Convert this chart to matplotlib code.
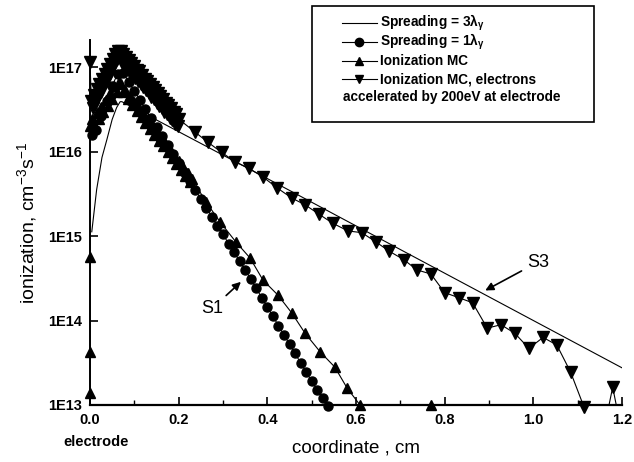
import numpy as np
import matplotlib.pyplot as plt
from matplotlib.patches import Rectangle
from matplotlib.lines import Line2D

plt.rcParams['font.family'] = ['Liberation Sans', 'DejaVu Sans']
plt.rcParams['mathtext.default'] = 'regular'

# Spreading = 3 lambda (thin line)
s3_x = [0.004, 0.015, 0.027, 0.038, 0.050, 0.060, 0.068, 0.072, 0.40, 0.80, 1.20]
s3_log = [15.05, 15.55, 15.93, 16.14, 16.38, 16.52, 16.59, 16.59, 15.68, 14.56, 13.44]

# Spreading = 1 lambda (circles)
s1_x = [0.005, 0.0125, 0.025, 0.0375, 0.05, 0.0625, 0.075, 0.0875, 0.100, 0.1125,
        0.125, 0.1375, 0.150, 0.1625, 0.175, 0.1875, 0.200, 0.2125, 0.225, 0.2375,
        0.250, 0.2625, 0.275, 0.2875, 0.300, 0.3125, 0.325, 0.3375, 0.350, 0.3625,
        0.375, 0.3875, 0.400, 0.4125, 0.425, 0.4375, 0.450, 0.4625, 0.475, 0.4875,
        0.500, 0.5125, 0.525, 0.5375]
s1_log = [16.20, 16.25, 16.42, 16.60, 16.78, 16.92, 16.93, 16.82, 16.72, 16.61,
          16.50, 16.40, 16.29, 16.18, 16.08, 15.97, 15.86, 15.76, 15.65, 15.54,
          15.44, 15.33, 15.23, 15.12, 15.02, 14.91, 14.81, 14.70, 14.60, 14.49,
          14.38, 14.27, 14.16, 14.05, 13.94, 13.83, 13.72, 13.61, 13.50, 13.39,
          13.28, 13.18, 13.08, 12.99]

# Ionization MC (up triangles)
mc_x = [0.0, 0.0, 0.0, 0.0,
        0.005, 0.010, 0.015, 0.020, 0.025, 0.030, 0.035, 0.040, 0.045, 0.050,
        0.055, 0.060, 0.065,
        0.070, 0.075, 0.080, 0.085, 0.090, 0.095, 0.100, 0.105, 0.110, 0.115,
        0.120, 0.125, 0.130, 0.135, 0.140, 0.145, 0.150, 0.155, 0.160, 0.165,
        0.170, 0.175, 0.180, 0.185, 0.190, 0.195, 0.200, 0.205, 0.210, 0.215,
        0.220, 0.225, 0.230,
        0.262, 0.293, 0.329, 0.361, 0.390, 0.424, 0.455, 0.485, 0.519, 0.552,
        0.580, 0.609, 0.769]
mc_log = [13.14, 13.63, 14.75, 16.30,
          16.38, 16.31, 16.46, 16.39, 16.53, 16.47, 16.61, 16.54, 16.69, 16.62,
          16.77, 16.70, 16.82,
          16.80, 16.70, 16.73, 16.62, 16.66, 16.55, 16.59, 16.48, 16.52, 16.41,
          16.45, 16.34, 16.38, 16.27, 16.31, 16.20, 16.24, 16.13, 16.17, 16.06,
          16.10, 15.99, 16.03, 15.92, 15.96, 15.85, 15.89, 15.78, 15.82, 15.71,
          15.75, 15.64, 15.68,
          15.40, 15.17, 14.93, 14.74, 14.48, 14.30, 14.09, 13.85, 13.63, 13.45,
          13.20, 13.00, 13.00]

# Ionization MC, electrons accelerated by 200 eV (down triangles)
mce_x = [0.0, 0.0,
         0.003, 0.006, 0.009, 0.012, 0.015, 0.018, 0.021, 0.024, 0.027, 0.030,
         0.033, 0.036, 0.039, 0.042, 0.045, 0.048, 0.051, 0.054, 0.057, 0.060,
         0.063,
         0.066, 0.069, 0.072, 0.075, 0.078, 0.081, 0.084, 0.087, 0.090, 0.093,
         0.096, 0.099, 0.102, 0.105, 0.108, 0.111, 0.114, 0.117, 0.120, 0.123,
         0.126, 0.129, 0.132, 0.135, 0.138, 0.141, 0.144, 0.147, 0.150, 0.153,
         0.156, 0.159, 0.162, 0.165, 0.168, 0.171, 0.174, 0.177, 0.180, 0.183,
         0.186, 0.189, 0.192, 0.195, 0.198, 0.201,
         0.237, 0.266, 0.297, 0.327, 0.359, 0.390, 0.422, 0.455, 0.485,
         0.516, 0.548, 0.582, 0.613, 0.645, 0.675, 0.708, 0.737, 0.769, 0.800,
         0.832, 0.863, 0.896, 0.927, 0.958, 0.990, 1.022, 1.053, 1.084, 1.114,
         1.147, 1.179, 1.210]
mce_log = [17.80, 17.06,
           16.60, 16.51, 16.67, 16.58, 16.74, 16.64, 16.80, 16.71, 16.86, 16.77,
           16.92, 16.83, 16.98, 16.89, 17.04, 16.96, 17.10, 17.02, 17.16, 17.09,
           17.19,
           17.12, 17.19, 17.05, 17.16, 17.02, 17.12, 16.98, 17.08, 16.93, 17.05,
           16.91, 17.01, 16.87, 16.97, 16.84, 16.95, 16.80, 16.90, 16.76, 16.86,
           16.73, 16.84, 16.69, 16.80, 16.65, 16.76, 16.62, 16.73, 16.58, 16.69,
           16.54, 16.66, 16.51, 16.62, 16.47, 16.58, 16.44, 16.55, 16.40, 16.52,
           16.37, 16.47, 16.33, 16.44, 16.30, 16.38,
           16.23, 16.11, 15.99, 15.88, 15.80, 15.70, 15.57, 15.45, 15.37,
           15.26, 15.15, 15.06, 15.04, 14.93, 14.82, 14.72, 14.60, 14.55, 14.33,
           14.27, 14.21, 13.91, 13.95, 13.85, 13.67, 13.80, 13.71, 13.39, 12.98,
           12.40, 13.21, 12.40]

y_ticks = [1e13, 1e14, 1e15, 1e16, 1e17]
y_tick_labels = ['1E13', '1E14', '1E15', '1E16', '1E17']
x_ticks = [0.0, 0.2, 0.4, 0.6, 0.8, 1.0, 1.2]
x_minor = [0.1, 0.3, 0.5, 0.7, 0.9, 1.1]

W, H = 634, 462
fig = plt.figure(figsize=(W / 100, H / 100), dpi=100)
ax = fig.add_axes([90 / W, 1 - 405 / H, 532 / W, 365 / H])
ymin, ymax = 1e13, 2.09e17


def series(x, logv, marker, ms, lw=0.8):
    x = np.asarray(x)
    v = 10 ** np.asarray(logv)
    ax.plot(x, v, '-', color='black', lw=lw)
    if marker:
        keep = (v >= 0.9e13) & (v <= ymax) & (x <= 1.2)
        ax.plot(x[keep], v[keep], linestyle='none', marker=marker, ms=ms,
                color='black', clip_on=False)


series(s3_x, s3_log, None, 0, lw=0.8)
series(s1_x, s1_log, 'o', 6.5)
series(mc_x, mc_log, '^', 7.5)
series(mce_x, mce_log, 'v', 8)

ax.set_yscale('log')
ax.set_xlim(0, 1.2)
ax.set_ylim(ymin, ymax)
ax.set_yticks(y_ticks, y_tick_labels)
ax.yaxis.set_minor_locator(plt.NullLocator())
ax.set_xticks(x_ticks, [f'{t:.1f}' for t in x_ticks])
ax.set_xticks(x_minor, minor=True)

for s in ['top', 'right']:
    ax.spines[s].set_visible(False)
ax.spines['bottom'].set_linewidth(1.6)
ax.spines['left'].set_linewidth(1.4)

ax.tick_params(which='major', direction='in', length=6, width=1.2,
               labelsize=10.5, pad=6)
ax.tick_params(which='minor', direction='in', length=3.5, width=1.0)
for lab in ax.get_xticklabels() + ax.get_yticklabels():
    lab.set_fontweight('bold')

ax.set_xlabel('coordinate , cm', fontsize=13.5, labelpad=9)
ax.set_ylabel('ionization, cm$^{-3}$s$^{-1}$', fontsize=14, labelpad=6)

ax.annotate('electrode', xy=(0, 0), xycoords=('data', 'axes fraction'),
            xytext=(6, -37), textcoords='offset pixels', ha='center',
            va='center', fontsize=10.5, fontweight='bold')

arrow = dict(arrowstyle='-|>', color='black', lw=1.2, mutation_scale=12)
ax.annotate('S1', xy=(0.345, 10 ** 14.48), xytext=(0.275, 10 ** 14.14),
            fontsize=13, ha='center', va='center', arrowprops=arrow)
ax.annotate('S3', xy=(0.886, 10 ** 14.34), xytext=(1.01, 10 ** 14.69),
            fontsize=13, ha='center', va='center', arrowprops=arrow)


# legend box drawn in figure pixels
def fx(p):
    return p / W


def fy(p):
    return 1 - p / H


fig.patches.append(Rectangle((fx(312), fy(122)), fx(594) - fx(312),
                             fy(6) - fy(122), transform=fig.transFigure,
                             fill=False, lw=1.2, color='black'))
legend_rows = [
    (None, 'Spreading = 3λ$_{γ}$'),
    ('o', 'Spreading = 1λ$_{γ}$'),
    ('^', 'Ionization MC'),
    ('v', 'Ionization MC, electrons'),
]
row_y = [23, 42, 61, 79]
for (mk, label), ry in zip(legend_rows, row_y):
    fig.lines.append(Line2D([fx(342), fx(377)], [fy(ry), fy(ry)], color='black',
                            lw=0.8, transform=fig.transFigure))
    if mk:
        fig.lines.append(Line2D([fx(359)], [fy(ry)], marker=mk, ms=6,
                                color='black', transform=fig.transFigure))
    fig.text(fx(380), fy(ry), label, fontsize=9.8, fontweight='bold',
             va='center', ha='left')
fig.text(fx(343), fy(97), 'accelerated by 200eV at electrode', fontsize=9.8,
         fontweight='bold', va='center', ha='left')

fig.savefig('out.png', dpi=100)
